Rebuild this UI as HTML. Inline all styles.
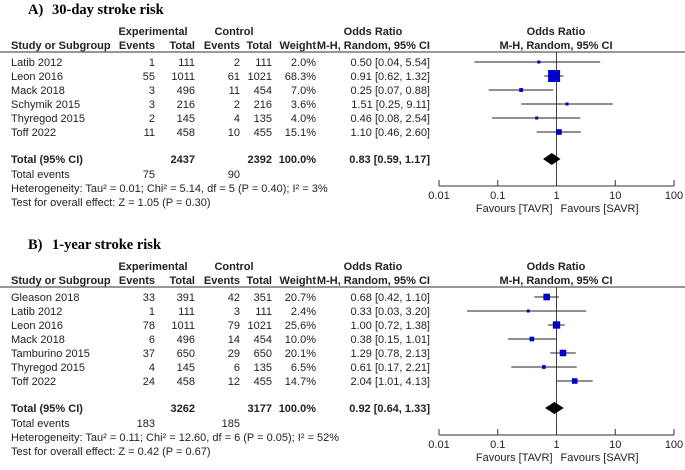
<!DOCTYPE html>
<html><head><meta charset="utf-8"><style>
body{margin:0;background:#fff;}
svg text{font-family:"Liberation Sans",Arial,sans-serif;font-size:11px;fill:#222;}
.b{font-weight:bold;}
.t{font-family:"Liberation Serif","Times New Roman",serif !important;font-size:14.5px !important;font-weight:bold;fill:#000 !important;}
</style></head><body>
<svg id="c" width="685" height="465" xmlns="http://www.w3.org/2000/svg"></svg>
<script>
const studiesA=["Latib 2012","Leon 2016","Mack 2018","Schymik 2015","Thyregod 2015","Toff 2022"];
const expEvA=[1,55,3,3,2,11];
const expTotA=[111,1011,496,216,145,458];
const ctlEvA=[2,61,11,2,4,10];
const ctlTotA=[111,1021,454,216,135,455];
const weightA=[2.0,68.3,7.0,3.6,4.0,15.1];
const orA=[0.50,0.91,0.25,1.51,0.46,1.10];
const loA=[0.04,0.62,0.07,0.25,0.08,0.46];
const hiA=[5.54,1.32,0.88,9.11,2.54,2.60];
const totalA={exp:2437,ctl:2392,or:0.83,lo:0.59,hi:1.17,ev1:75,ev2:90,het:"Heterogeneity: Tau² = 0.01; Chi² = 5.14, df = 5 (P = 0.40); I² = 3%",test:"Test for overall effect: Z = 1.05 (P = 0.30)"};

const studiesB=["Gleason 2018","Latib 2012","Leon 2016","Mack 2018","Tamburino 2015","Thyregod 2015","Toff 2022"];
const expEvB=[33,1,78,6,37,4,24];
const expTotB=[391,111,1011,496,650,145,458];
const ctlEvB=[42,3,79,14,29,6,12];
const ctlTotB=[351,111,1021,454,650,135,455];
const weightB=[20.7,2.4,25.6,10.0,20.1,6.5,14.7];
const orB=[0.68,0.33,1.00,0.38,1.29,0.61,2.04];
const loB=[0.42,0.03,0.72,0.15,0.78,0.17,1.01];
const hiB=[1.10,3.20,1.38,1.01,2.13,2.21,4.13];
const totalB={exp:3262,ctl:3177,or:0.92,lo:0.64,hi:1.33,ev1:183,ev2:185,het:"Heterogeneity: Tau² = 0.11; Chi² = 12.60, df = 6 (P = 0.05); I² = 52%",test:"Test for overall effect: Z = 0.42 (P = 0.67)"};

const tickVals=[0.01,0.1,1,10,100];
const tickLabels=["0.01","0.1","1","10","100"];

const svg=document.getElementById('c');
const NS="http://www.w3.org/2000/svg";
function mk(tag,attrs,parent){const e=document.createElementNS(NS,tag);for(const k in attrs)e.setAttribute(k,attrs[k]);(parent||svg).appendChild(e);return e;}
function txt(x,y,s,anchor,cls,name,parent){const e=mk('text',{x:x,y:y,'text-anchor':anchor||'start'},parent);if(cls)e.setAttribute('class',cls);e.textContent=s;


return e;}
const X0=439,X1=674;
function xs(v){return X0+(Math.log10(v)+2)/4*(X1-X0);}
function f2(v){return v.toFixed(2);}

function panel(top,label,title,studies,ee,et,ce,ct,w,or,lo,hi,tot,letter){
  const g=mk('g',{});
  
  
  txt(28,top+19,label,'start','t','panel-label',g);
  txt(52,top+19,title,'start','t','panel-title',g);
  const hy1=top+40,hy2=top+54,ly=top+57;
  txt(153,hy1,"Experimental",'middle','b','header-experimental',g);
  txt(234,hy1,"Control",'middle','b','header-control',g);
  txt(373,hy1,"Odds Ratio",'middle','b','header-odds-ratio',g);
  txt(556,hy1,"Odds Ratio",'middle','b','header-plot-odds-ratio',g);
  txt(11,hy2,"Study or Subgroup",'start','b','header-study',g);
  txt(155,hy2,"Events",'end','b','header-exp-events',g);
  txt(195,hy2,"Total",'end','b','header-exp-total',g);
  txt(240,hy2,"Events",'end','b','header-ctl-events',g);
  txt(272,hy2,"Total",'end','b','header-ctl-total',g);
  txt(316,hy2,"Weight",'end','b','header-weight',g);
  txt(430,hy2,"M-H, Random, 95% CI",'end','b','header-or-method',g);
  txt(556,hy2,"M-H, Random, 95% CI",'middle','b','header-plot-method',g);
  const sep=mk('line',{x1:0,x2:685,y1:ly,y2:ly,stroke:'#777','stroke-width':1.5},g);
  
  
  const rowY=i=>top+67+i*14;
  const n=studies.length;
  const axisY=rowY(n-1)+54;
  const ref=mk('line',{x1:xs(1),x2:xs(1),y1:ly,y2:axisY,stroke:'#444','stroke-width':1},g);
  
  
  for(let i=0;i<n;i++){
    const y=rowY(i);
    txt(11,y+4,studies[i],'start',null,'study-name',g);
    txt(155,y+4,String(ee[i]),'end',null,'exp-events',g);
    txt(195,y+4,String(et[i]),'end',null,'exp-total',g);
    txt(240,y+4,String(ce[i]),'end',null,'ctl-events',g);
    txt(272,y+4,String(ct[i]),'end',null,'ctl-total',g);
    txt(316,y+4,w[i].toFixed(1)+"%",'end',null,'weight',g);
    txt(430,y+4,f2(or[i])+" ["+f2(lo[i])+", "+f2(hi[i])+"]",'end',null,'odds-ratio-ci',g);
    const l=mk('line',{x1:xs(lo[i]),x2:xs(hi[i]),y1:y,y2:y,stroke:'#222','stroke-width':1},g);
    
    
    const s=Math.max(3,12*Math.sqrt(w[i]/68.3));
    const r=mk('rect',{x:xs(or[i])-s/2,y:y-s/2,width:s,height:s,fill:'#0000c8'},g);
    
    
  }
  const ty=rowY(n-1)+27;
  txt(11,ty+4,"Total (95% CI)",'start','b','total-label',g);
  txt(195,ty+4,String(tot.exp),'end','b','total-exp',g);
  txt(272,ty+4,String(tot.ctl),'end','b','total-ctl',g);
  txt(316,ty+4,"100.0%",'end','b','total-weight',g);
  txt(430,ty+4,f2(tot.or)+" ["+f2(tot.lo)+", "+f2(tot.hi)+"]",'end','b','total-or',g);
  const d=mk('polygon',{points:`${xs(tot.lo)},${ty} ${xs(tot.or)},${ty-6} ${xs(tot.hi)},${ty} ${xs(tot.or)},${ty+6}`,fill:'#000'},g);
  
  
  txt(11,ty+19,"Total events",'start',null,'total-events-label',g);
  txt(155,ty+19,String(tot.ev1),'end',null,'total-events-exp',g);
  txt(240,ty+19,String(tot.ev2),'end',null,'total-events-ctl',g);
  txt(11,ty+33,tot.het,'start',null,'heterogeneity-text',g);
  txt(11,ty+47,tot.test,'start',null,'overall-effect-text',g);
  const ax=mk('line',{x1:X0,x2:X1,y1:axisY,y2:axisY,stroke:'#333','stroke-width':1},g);
  
  
  for(let k=0;k<tickVals.length;k++){
    const x=xs(tickVals[k]);
    const t=mk('line',{x1:x,x2:x,y1:axisY-6,y2:axisY,stroke:'#333','stroke-width':1},g);
    
    
    txt(x,axisY+13,tickLabels[k],'middle',null,'x-tick-label',g);
  }
  txt(xs(1)-4,axisY+26,"Favours [TAVR]",'end',null,'favours-left',g);
  txt(xs(1)+4,axisY+26,"Favours [SAVR]",'start',null,'favours-right',g);
}
panel(-5,"A)","30-day stroke risk",studiesA,expEvA,expTotA,ctlEvA,ctlTotA,weightA,orA,loA,hiA,totalA,'a');
panel(230,"B)","1-year stroke risk",studiesB,expEvB,expTotB,ctlEvB,ctlTotB,weightB,orB,loB,hiB,totalB,'b');
</script>
</body></html>
